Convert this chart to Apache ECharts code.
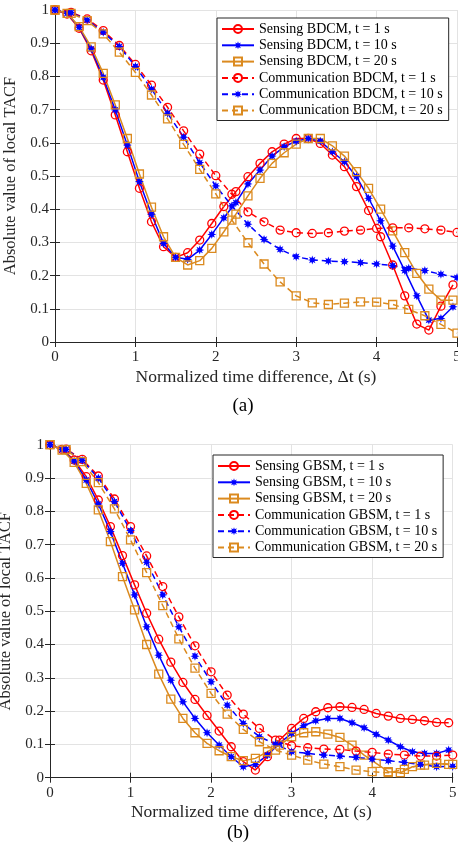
<!DOCTYPE html>
<html>
<head>
<meta charset="utf-8">
<script src="https://cdn.jsdelivr.net/npm/echarts@6/dist/echarts.min.js"></script>
<style>
html, body { margin: 0; padding: 0; background: #fff; }
#c { width: 458px; height: 854px; }
</style>
</head>
<body>
<div id="c"></div>
<script>
// Sample positions of the sensing (TACF) curves and of the communication curves
const xSensing = [0, 0.15, 0.3, 0.45, 0.6, 0.75, 0.9, 1.05, 1.2, 1.35, 1.5, 1.65, 1.8, 1.95, 2.1, 2.25, 2.4,
  2.55, 2.7, 2.85, 3.0, 3.15, 3.3, 3.45, 3.6, 3.75, 3.9, 4.05, 4.2, 4.35, 4.5, 4.65, 4.8, 4.95];
const xComm = [0, 0.2, 0.4, 0.6, 0.8, 1.0, 1.2, 1.4, 1.6, 1.8, 2.0, 2.2, 2.4, 2.6, 2.8, 3.0, 3.2, 3.4,
  3.6, 3.8, 4.0, 4.2, 4.4, 4.6, 4.8, 5.0];

// (a) BDCM
const bdcmSense1 = [1.0, 0.988, 0.945, 0.877, 0.789, 0.684, 0.573, 0.463, 0.362, 0.287,
  0.255, 0.269, 0.307, 0.357, 0.408, 0.453, 0.498, 0.538, 0.573, 0.596,
  0.613, 0.613, 0.598, 0.563, 0.528, 0.468, 0.396, 0.317, 0.232, 0.139,
  0.054, 0.036, 0.108, 0.172];
const bdcmSense10 = [1.0, 0.99, 0.948, 0.883, 0.797, 0.699, 0.593, 0.483, 0.385, 0.297,
  0.255, 0.249, 0.277, 0.324, 0.374, 0.42, 0.476, 0.518, 0.56, 0.588,
  0.605, 0.613, 0.605, 0.573, 0.543, 0.498, 0.433, 0.365, 0.289, 0.215,
  0.139, 0.066, 0.071, 0.106];
const bdcmSense20 = [1.0, 0.99, 0.95, 0.889, 0.809, 0.714, 0.613, 0.506, 0.406, 0.317,
  0.255, 0.232, 0.245, 0.282, 0.332, 0.385, 0.44, 0.493, 0.538, 0.57,
  0.596, 0.613, 0.613, 0.591, 0.56, 0.513, 0.463, 0.40, 0.335, 0.269,
  0.207, 0.159, 0.126, 0.126];
const bdcmComm1 = [1.0, 0.993, 0.973, 0.938, 0.893, 0.836, 0.774, 0.707, 0.636, 0.566,
  0.501, 0.445, 0.392, 0.362, 0.337, 0.329, 0.327, 0.329, 0.334, 0.337,
  0.342, 0.344, 0.344, 0.341, 0.337, 0.33];
const bdcmComm10 = [1.0, 0.992, 0.97, 0.933, 0.89, 0.83, 0.762, 0.689, 0.617, 0.54,
  0.47, 0.41, 0.355, 0.309, 0.279, 0.257, 0.247, 0.244, 0.242, 0.239,
  0.235, 0.23, 0.222, 0.215, 0.204, 0.194];
const bdcmComm20 = [1.0, 0.99, 0.968, 0.928, 0.873, 0.812, 0.744, 0.672, 0.595, 0.52,
  0.446, 0.367, 0.299, 0.235, 0.181, 0.139, 0.118, 0.113, 0.117, 0.121,
  0.12, 0.113, 0.098, 0.079, 0.053, 0.027];

// (b) GBSM
const gbsmSense1 = [1.0, 0.986, 0.954, 0.904, 0.834, 0.754, 0.667, 0.579, 0.494, 0.416,
  0.347, 0.286, 0.235, 0.187, 0.14, 0.093, 0.048, 0.023, 0.063, 0.113,
  0.148, 0.178, 0.198, 0.21, 0.213, 0.211, 0.205, 0.193, 0.185, 0.178,
  0.175, 0.171, 0.166, 0.165];
const gbsmSense10 = [1.0, 0.985, 0.951, 0.894, 0.822, 0.739, 0.644, 0.549, 0.453, 0.368,
  0.293, 0.228, 0.178, 0.135, 0.098, 0.063, 0.033, 0.04, 0.068, 0.103,
  0.133, 0.156, 0.171, 0.178, 0.178, 0.165, 0.15, 0.13, 0.113, 0.093,
  0.078, 0.073, 0.073, 0.083];
const gbsmSense20 = [1.0, 0.984, 0.947, 0.884, 0.804, 0.709, 0.604, 0.504, 0.40, 0.311,
  0.236, 0.178, 0.135, 0.103, 0.081, 0.063, 0.051, 0.058, 0.078, 0.098,
  0.123, 0.135, 0.138, 0.131, 0.121, 0.098, 0.068, 0.043, 0.018, 0.015,
  0.033, 0.038, 0.043, 0.04];
const gbsmComm1 = [1.0, 0.987, 0.956, 0.906, 0.837, 0.754, 0.666, 0.574, 0.483, 0.396,
  0.318, 0.248, 0.191, 0.148, 0.113, 0.096, 0.09, 0.086, 0.085, 0.08,
  0.076, 0.071, 0.068, 0.065, 0.065, 0.068];
const gbsmComm10 = [1.0, 0.986, 0.953, 0.9, 0.829, 0.742, 0.647, 0.549, 0.453, 0.365,
  0.288, 0.218, 0.163, 0.123, 0.101, 0.078, 0.073, 0.068, 0.065, 0.061,
  0.056, 0.051, 0.046, 0.04, 0.033, 0.034];
const gbsmComm20 = [1.0, 0.985, 0.949, 0.886, 0.807, 0.714, 0.616, 0.517, 0.417, 0.329,
  0.253, 0.191, 0.145, 0.108, 0.083, 0.068, 0.053, 0.041, 0.033, 0.023,
  0.018, 0.015, 0.025, 0.038, 0.043, 0.04];

const namesA = ['Sensing BDCM, t = 1 s', 'Sensing BDCM, t = 10 s', 'Sensing BDCM, t = 20 s',
  'Communication BDCM, t = 1 s', 'Communication BDCM, t = 10 s', 'Communication BDCM, t = 20 s'];
const namesB = ['Sensing GBSM, t = 1 s', 'Sensing GBSM, t = 10 s', 'Sensing GBSM, t = 20 s',
  'Communication GBSM, t = 1 s', 'Communication GBSM, t = 10 s', 'Communication GBSM, t = 20 s'];

const xTitle = 'Normalized time difference, \u0394t (s)';
const yTitle = 'Absolute value of local TACF';

const RED = '#FF0000', BLUE = '#0000FF', ORANGE = '#DB8A1F';
const FONT = '"Liberation Serif", "Times New Roman", serif';
const AXIS_COLOR = '#262626';
const STAR = 'path://M20 10 L14.62 11.91 L17.07 17.07 L11.91 14.62 L10 20 L8.09 14.62 L2.93 17.07 L5.38 11.91 L0 10 L5.38 8.09 L2.93 2.93 L8.09 5.38 L10 0 L11.91 5.38 L17.07 2.93 L14.62 8.09 Z';

function makeSeries(name, xs, ys, color, marker, dashed, g) {
  const filled = marker === 'star';
  return {
    name: name,
    type: 'line',
    xAxisIndex: g * 2,
    yAxisIndex: g * 2,
    data: xs.map((x, i) => [x, ys[i]]),
    symbol: filled ? STAR : marker,
    symbolSize: filled ? 9 : 8,
    showAllSymbol: true,
    clip: true,
    lineStyle: { color: color, width: 1.5, type: dashed ? [6, 4] : 'solid' },
    itemStyle: filled
      ? { color: color, borderWidth: 0 }
      : { color: 'rgba(255,255,255,0)', borderColor: color, borderWidth: 1.3 },
    emphasis: { disabled: true },
    animation: false
  };
}

function axesFor(g, yNameGap) {
  const common = {
    gridIndex: g,
    min: 0,
    axisLine: { show: true, lineStyle: { color: AXIS_COLOR, width: 1 } },
    axisTick: { show: true, inside: true, length: 5, lineStyle: { color: AXIS_COLOR } }
  };
  const xs = [
    Object.assign({}, common, {
      type: 'value', position: 'bottom', max: 5, interval: 1,
      name: xTitle, nameLocation: 'middle', nameGap: 26,
      nameTextStyle: { fontFamily: FONT, fontSize: 17.5, color: AXIS_COLOR },
      axisLabel: { fontFamily: FONT, fontSize: 15, color: AXIS_COLOR, margin: 8 },
      splitLine: { show: true, lineStyle: { color: '#E3E3E3', width: 1 } }
    }),
    Object.assign({}, common, {
      type: 'value', position: 'top', max: 5, interval: 1,
      axisLabel: { show: false }, splitLine: { show: false }
    })
  ];
  const ys = [
    Object.assign({}, common, {
      type: 'value', position: 'left', max: 1, interval: 0.1,
      name: yTitle, nameLocation: 'middle', nameGap: yNameGap,
      nameTextStyle: { fontFamily: FONT, fontSize: 16.5, color: AXIS_COLOR },
      axisLabel: {
        fontFamily: FONT, fontSize: 15, color: AXIS_COLOR, margin: 6,
        formatter: v => (Math.abs(v) < 1e-9 ? '0' : Math.abs(v - 1) < 1e-9 ? '1' : v.toFixed(1))
      },
      splitLine: { show: true, lineStyle: { color: '#E3E3E3', width: 1 } }
    }),
    Object.assign({}, common, {
      type: 'value', position: 'right', max: 1, interval: 0.1,
      axisLabel: { show: false }, splitLine: { show: false }
    })
  ];
  return { xs, ys };
}

const axA = axesFor(0, 33);
const axB = axesFor(1, 30);

function legendAt(names, left, top) {
  return {
    data: names,
    orient: 'vertical',
    left: left,
    top: top,
    padding: [4, 6, 3, 4],
    itemGap: 2.3,
    itemWidth: 32,
    itemHeight: 10,
    backgroundColor: '#fff',
    borderColor: AXIS_COLOR,
    borderWidth: 1,
    borderRadius: 0,
    selectedMode: false,
    textStyle: { fontFamily: FONT, fontSize: 14, color: '#000', lineHeight: 14, padding: [0, 0, 0, 0] }
  };
}

const option = {
  animation: false,
  backgroundColor: '#fff',
  grid: [
    { left: 55, top: 10, width: 402, height: 332, containLabel: false, outerBoundsMode: 'none' },
    { left: 50, top: 444.7, width: 402.7, height: 333, containLabel: false, outerBoundsMode: 'none' }
  ],
  xAxis: axA.xs.concat(axB.xs),
  yAxis: axA.ys.concat(axB.ys),
  legend: [legendAt(namesA, 217, 18), legendAt(namesB, 213, 455)],
  graphic: [
    { type: 'text', x: 243, y: 406, style: { text: '(a)', font: '19px ' + FONT, fill: '#000', align: 'center', verticalAlign: 'middle' } },
    { type: 'text', x: 238, y: 833, style: { text: '(b)', font: '19px ' + FONT, fill: '#000', align: 'center', verticalAlign: 'middle' } }
  ],
  series: [
    makeSeries(namesA[0], xSensing, bdcmSense1, RED, 'circle', false, 0),
    makeSeries(namesA[1], xSensing, bdcmSense10, BLUE, 'star', false, 0),
    makeSeries(namesA[2], xSensing, bdcmSense20, ORANGE, 'rect', false, 0),
    makeSeries(namesA[3], xComm, bdcmComm1, RED, 'circle', true, 0),
    makeSeries(namesA[4], xComm, bdcmComm10, BLUE, 'star', true, 0),
    makeSeries(namesA[5], xComm, bdcmComm20, ORANGE, 'rect', true, 0),
    makeSeries(namesB[0], xSensing, gbsmSense1, RED, 'circle', false, 1),
    makeSeries(namesB[1], xSensing, gbsmSense10, BLUE, 'star', false, 1),
    makeSeries(namesB[2], xSensing, gbsmSense20, ORANGE, 'rect', false, 1),
    makeSeries(namesB[3], xComm, gbsmComm1, RED, 'circle', true, 1),
    makeSeries(namesB[4], xComm, gbsmComm10, BLUE, 'star', true, 1),
    makeSeries(namesB[5], xComm, gbsmComm20, ORANGE, 'rect', true, 1)
  ]
};

const chart = echarts.init(document.getElementById('c'), null, { renderer: 'canvas' });
chart.setOption(option);
</script>
</body>
</html>
